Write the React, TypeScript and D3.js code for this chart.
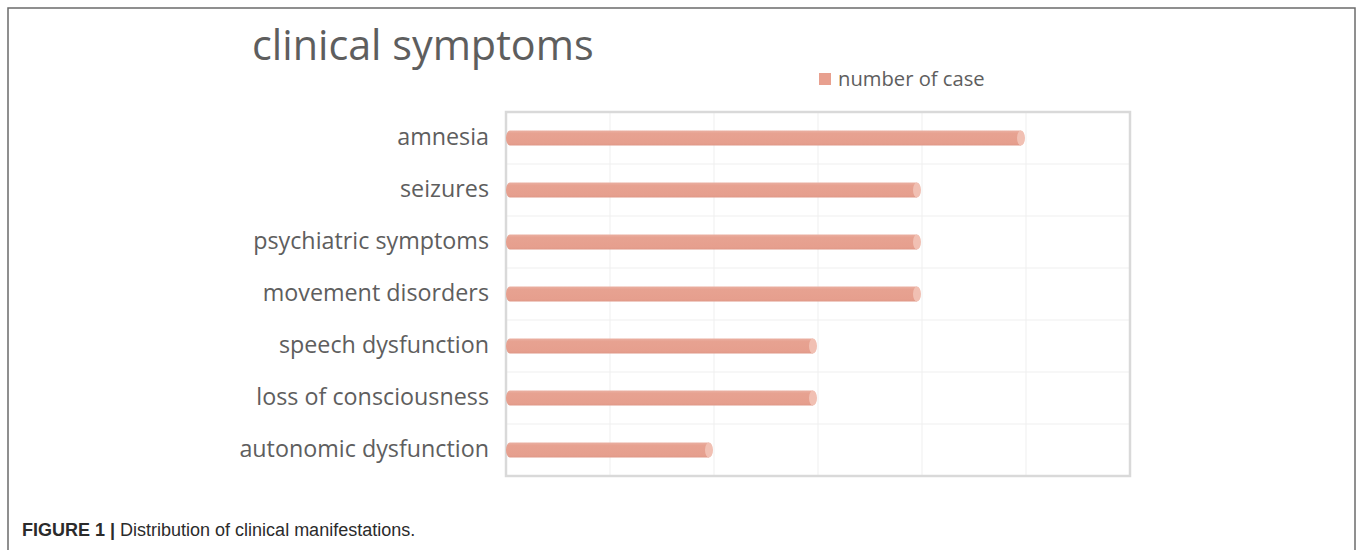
import React from "react";
import * as d3 from "d3";

const categories = [
  "amnesia",
  "seizures",
  "psychiatric symptoms",
  "movement disorders",
  "speech dysfunction",
  "loss of consciousness",
  "autonomic dysfunction",
];
const values = [5, 4, 4, 4, 3, 3, 2];
const xTicks = [0, 1, 2, 3, 4, 5, 6];
const seriesName = "number of case";
const title = "clinical symptoms";

export default function App() {
  const W = 1357;
  const H = 550;
  const left = 506, right = 1130, top = 112, bottom = 476;
  const x = d3.scaleLinear().domain([0, 6]).range([left, right]);
  const y = d3.scaleBand<string>().domain(categories).range([top, bottom]);
  const barH = 15;
  const rx = 4;
  const textColor = "#5e5e5e";
  const font = "'Open Sans', 'Noto Sans', sans-serif";

  return (
    <svg
      width={W}
      height={H}
      style={{ position: "absolute", left: 0, top: 0, display: "block", background: "#fff" }}
    >
      <defs>
        <linearGradient id="barg" x1="0" y1="0" x2="0" y2="1">
          <stop offset="0" stopColor="#eab0a2" />
          <stop offset="0.2" stopColor="#e7a291" />
          <stop offset="0.85" stopColor="#e69f8e" />
          <stop offset="1" stopColor="#df9887" />
        </linearGradient>
      </defs>
      {/* outer frame */}
      <rect x={8} y={8} width={1347} height={560} fill="none" stroke="#6b6b6b" strokeWidth={1.5} />

      {/* title */}
      <text x={252} y={60} fontFamily={font} fontSize={41.3} fill={textColor}>
        {title}
      </text>

      {/* legend */}
      <rect x={819} y={73} width={12} height={12} fill="#e8a08f" />
      <text x={838} y={86} fontFamily={font} fontSize={20.2} fill={textColor}>
        {seriesName}
      </text>

      {/* horizontal gridlines */}
      {categories.slice(1).map((c) => (
        <line key={"h" + c} x1={left} x2={right} y1={y(c)!} y2={y(c)!} stroke="#efefef" strokeWidth={1} />
      ))}
      {/* vertical gridlines */}
      {xTicks.slice(1, -1).map((t) => (
        <line key={"v" + t} x1={x(t)} x2={x(t)} y1={top} y2={bottom} stroke="#efefef" strokeWidth={1} />
      ))}

      {/* plot border */}
      <rect x={left} y={top} width={right - left} height={bottom - top} fill="none" stroke="#d9d9d9" strokeWidth={2.5} />

      {/* bars */}
      {categories.map((c, i) => {
        const cy = y(c)! + y.bandwidth() / 2;
        const x0 = x(0);
        const x1 = x(values[i]) - 5;
        const y0 = cy - barH / 2;
        const d = `M${x0 + rx},${y0} L${x1},${y0} L${x1},${y0 + barH} L${x0 + rx},${y0 + barH} A${rx},${barH / 2} 0 0 1 ${x0 + rx},${y0} Z`;
        return (
          <g key={c}>
            <path d={d} fill="url(#barg)" />
            <ellipse cx={x1} cy={cy} rx={rx} ry={barH / 2} fill="#f1c0b3" />
          </g>
        );
      })}

      {/* category labels */}
      {categories.map((c) => (
        <text
          key={"l" + c}
          x={489}
          y={y(c)! + y.bandwidth() / 2 - 1}
          dy="0.35em"
          textAnchor="end"
          fontFamily={font}
          fontSize={23.3}
          fill={textColor}
        >
          {c}
        </text>
      ))}

      {/* caption */}
      <text x={22} y={536} fontFamily="'Liberation Sans Narrow', 'Liberation Sans', sans-serif" fontSize={18} fill="#2b2b2b">
        <tspan fontWeight="bold">FIGURE 1 | </tspan>
        <tspan>Distribution of clinical manifestations.</tspan>
      </text>
    </svg>
  );
}
